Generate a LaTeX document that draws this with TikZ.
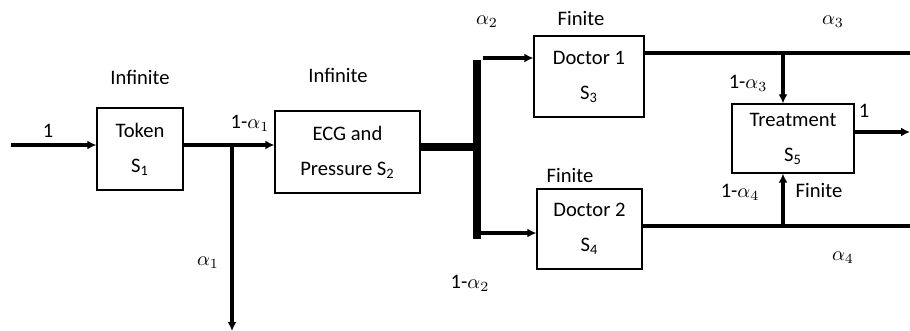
\documentclass[tikz,border=0pt]{standalone}
\usepackage{fontspec}
\setmainfont{Carlito}
\usetikzlibrary{arrows.meta}
\begin{document}
\begin{tikzpicture}[x=0.5pt,y=-0.5pt,
  every node/.style={font=\fontsize{10.3}{17.5}\selectfont, inner sep=0pt},
  station/.style={draw, line width=0.6pt, align=center},
  flow/.style={line width=2.1pt},
  arr/.style={flow, -{Latex[length=4.5pt,width=4.5pt]}},
  lbl/.style={anchor=center}]
\useasboundingbox (0,0) rectangle (910,331);

% stations
\node[station, minimum width=43pt, minimum height=41pt] (token) at (140,149) {Token\\S\textsubscript{1}};
\node[station, minimum width=72.5pt, minimum height=41pt] (ecg) at (347.5,152) {ECG and\\Pressure S\textsubscript{2}};
\node[station, minimum width=55pt, minimum height=40.5pt] (doc1) at (589,76.5) {Doctor 1\\S\textsubscript{3}};
\node[station, minimum width=52.5pt, minimum height=40pt] (doc2) at (589.5,229) {Doctor 2\\S\textsubscript{4}};
\node[station, minimum width=61pt, minimum height=34.5pt] (treat) at (793,138.5) {Treatment\\S\textsubscript{5}};

% junctions and free ends
\coordinate (in) at (11,145);
\coordinate (j1) at (232,145);
\coordinate (out1) at (232,331);
\coordinate (bar) at (477,147);
\coordinate (bartop) at (477,60);
\coordinate (barbot) at (477,239);
\coordinate (up) at (483,58);
\coordinate (lo) at (477,233);
\coordinate (j3) at (783,53);
\coordinate (j4) at (783,226);
\coordinate (end3) at (910,53);
\coordinate (end4) at (910,226);
\coordinate (end5) at (910,132);

% flows
\draw[arr] (in) -- (in -| token.west);
\draw[arr] (token.east |- j1) -- (j1 -| ecg.west);
\draw[arr] (j1) -- (out1);
\draw[line width=3.6pt] (ecg.east |- bar) -- (bar);
\draw[line width=4pt] (bartop) -- (barbot);
\draw[arr] (up) -- (up -| doc1.west);
\draw[arr] (lo) -- (lo -| doc2.west);
\draw[flow] (doc1.east |- j3) -- (end3);
\draw[arr] (j3) -- (j3 |- treat.north);
\draw[flow] (doc2.east |- j4) -- (end4);
\draw[arr] (j4) -- (j4 |- treat.south);
\draw[arr] (treat.east |- end5) -- (end5);

% labels
\node[lbl] at (48,131) {1};
\node[lbl] at (140,77) {Infinite};
\node[lbl] at (338,75) {Infinite};
\node[lbl] at (250,123) {1-$\alpha_1$};
\node[lbl] at (208,263) {$\alpha_1$};
\node[lbl] at (487,22) {$\alpha_2$};
\node[lbl] at (470,283) {1-$\alpha_2$};
\node[lbl] at (581,18) {Finite};
\node[lbl] at (570,175) {Finite};
\node[lbl] at (833,22) {$\alpha_3$};
\node[lbl] at (748,83) {1-$\alpha_3$};
\node[lbl] at (864,111) {1};
\node[lbl] at (740,192) {1-$\alpha_4$};
\node[lbl] at (819,190) {Finite};
\node[lbl] at (843,258) {$\alpha_4$};
\end{tikzpicture}
\end{document}
